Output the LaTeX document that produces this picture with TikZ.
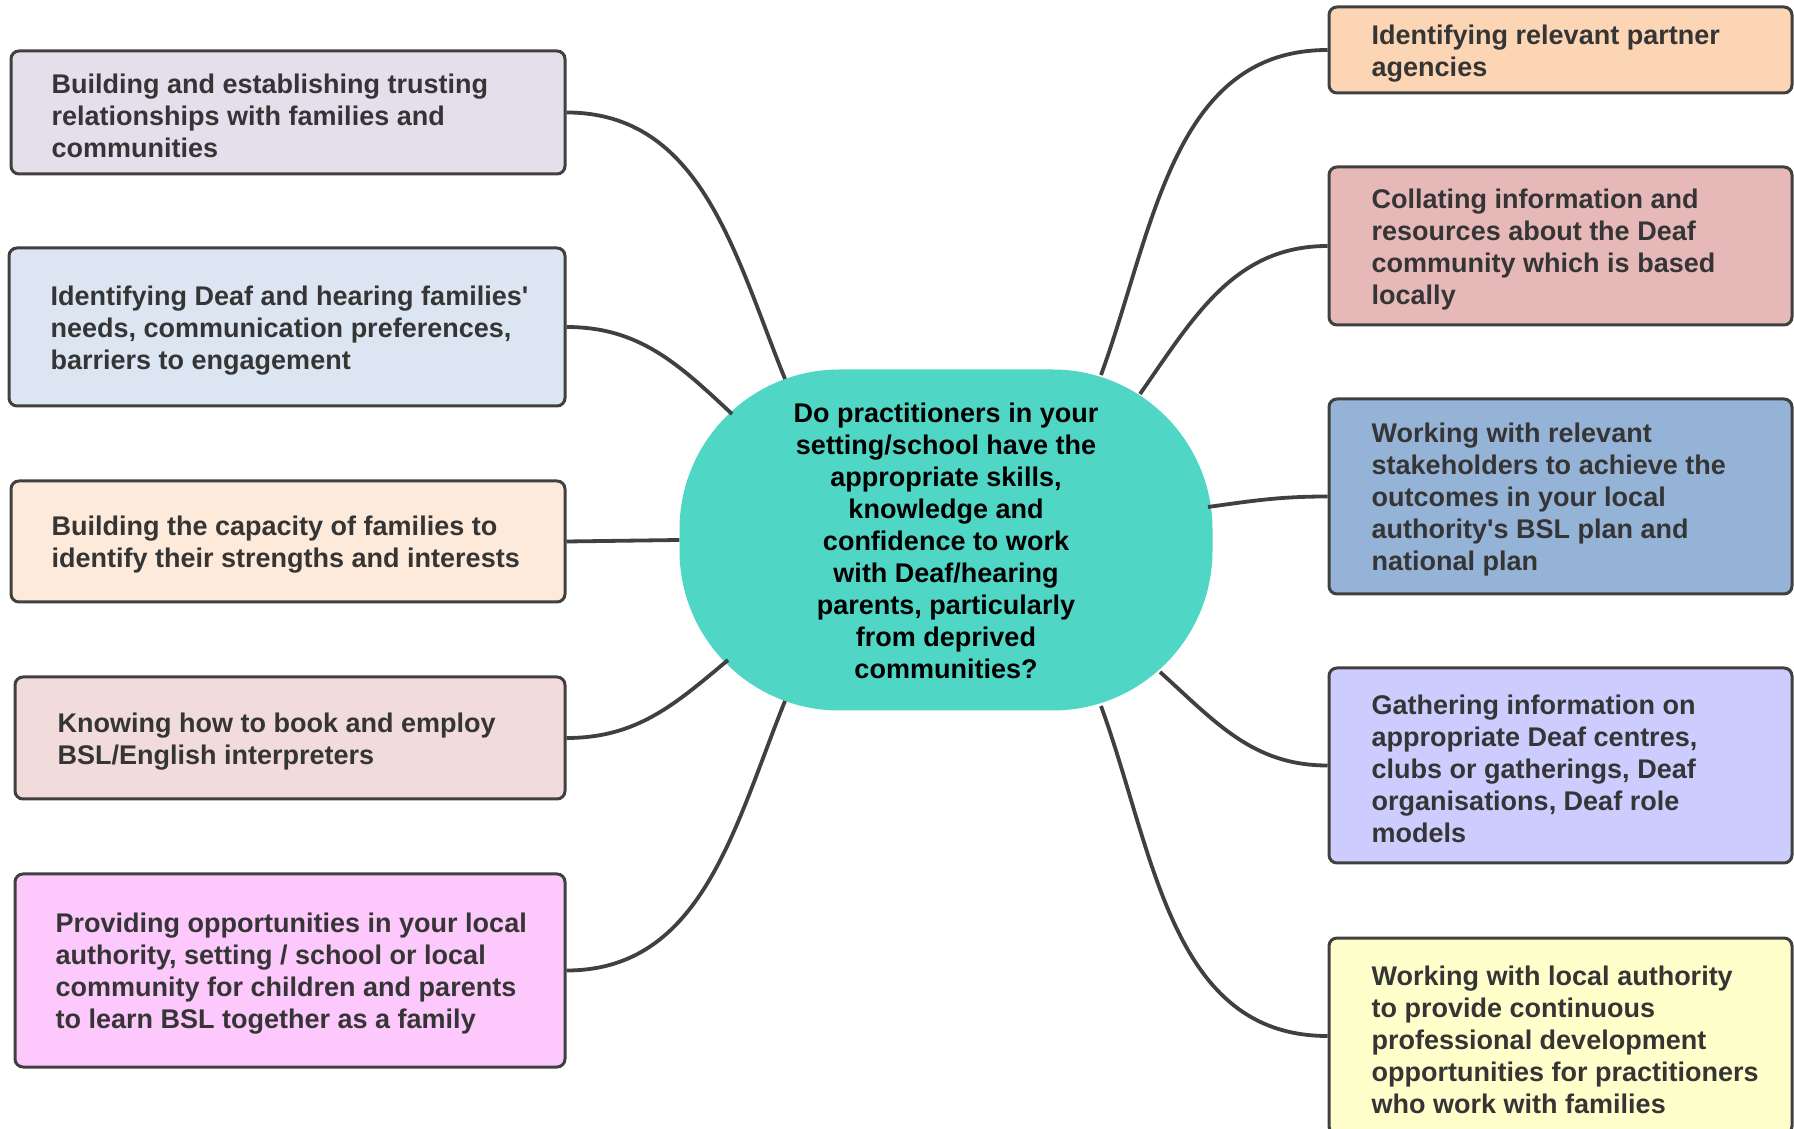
\documentclass[tikz,border=0pt]{standalone}
\usepackage{fontspec}
\setmainfont{Liberation Sans}
\usetikzlibrary{calc}

\definecolor{edge}{HTML}{404040}
\definecolor{txt}{HTML}{353535}
\definecolor{hub}{HTML}{4FD6C5}
\definecolor{cLa}{HTML}{E5DFEC}
\definecolor{cLb}{HTML}{DCE6F2}
\definecolor{cLc}{HTML}{FDEADA}
\definecolor{cLd}{HTML}{F2DCDB}
\definecolor{cLe}{HTML}{FDC9FD}
\definecolor{cRa}{HTML}{FCD5B5}
\definecolor{cRb}{HTML}{E6B9B8}
\definecolor{cRc}{HTML}{95B3D7}
\definecolor{cRd}{HTML}{CCCCFF}
\definecolor{cRe}{HTML}{FFFFCC}

\begin{document}
\begin{tikzpicture}[x=1pt,y=1pt,
  box/.style={draw=edge, line width=3pt, rounded corners=8pt, inner sep=0pt},
  lbl/.style={anchor=west, align=left, inner sep=0pt, text=txt,
    font=\fontsize{27}{32}\selectfont\bfseries},
  hubnode/.style={fill=hub, rounded corners=160pt, minimum width=533pt,
    minimum height=341pt, align=center, text=black, inner sep=0pt,
    font=\fontsize{27}{32}\selectfont\bfseries},
  link/.style={draw=edge, line width=3.8pt}]

\fill[white] (0,0) rectangle (1794,1128);
\useasboundingbox (0,0) rectangle (1794,1128);

% central question
\node[hubnode] (C) at (946,588) {\raisebox{-4.5pt}[\height][\depth]{\begin{tabular}{@{}c@{}}Do practitioners in your\\setting/school have the\\appropriate skills,\\knowledge and\\confidence to work\\with Deaf/hearing\\parents, particularly\\from deprived\\communities?\end{tabular}}};

% left column: frames
\node[box, fill=cLa, minimum width=554pt, minimum height=123pt] (L1) at (288,1015.5) {};
\node[box, fill=cLb, minimum width=556pt, minimum height=158pt] (L2) at (287,801) {};
\node[box, fill=cLc, minimum width=554pt, minimum height=121pt] (L3) at (288,586.5) {};
\node[box, fill=cLd, minimum width=550pt, minimum height=122pt] (L4) at (290,390) {};
\node[box, fill=cLe, minimum width=550pt, minimum height=193pt] (L5) at (290,157.5) {};

% left column: texts
\node[lbl] (L1t) at ($(L1.west)+(42,-3.5)$)
  {Building and establishing trusting\\relationships with families and\\communities};
\node[lbl] (L2t) at ($(L2.west)+(43,-3.5)$)
  {Identifying Deaf and hearing families\textquotesingle\\needs, communication preferences,\\barriers to engagement};
\node[lbl] (L3t) at ($(L3.west)+(42,-3.5)$)
  {Building the capacity of families to\\identify their strengths and interests};
\node[lbl] (L4t) at ($(L4.west)+(44,-3.5)$)
  {Knowing how to book and employ\\BSL/English interpreters};
\node[lbl] (L5t) at ($(L5.west)+(42,-3.5)$)
  {Providing opportunities in your local\\authority, setting / school or local\\community for children and parents\\to learn BSL together as a family};

% right column: frames
\node[box, fill=cRa, minimum width=463pt, minimum height=86pt]  (R1) at (1560.5,1078) {};
\node[box, fill=cRb, minimum width=463pt, minimum height=158pt] (R2) at (1560.5,882) {};
\node[box, fill=cRc, minimum width=463pt, minimum height=195pt] (R3) at (1560.5,631.5) {};
\node[box, fill=cRd, minimum width=463pt, minimum height=195pt] (R4) at (1560.5,362.5) {};
\node[box, fill=cRe, minimum width=463pt, minimum height=196pt] (R5) at (1560.5,92) {};

% right column: texts
\node[lbl] (R1t) at ($(R1.west)+(44,-3.5)$)
  {Identifying relevant partner\\agencies};
\node[lbl] (R2t) at ($(R2.west)+(44,-3.5)$)
  {Collating information and\\resources about the Deaf\\community which is based\\locally};
\node[lbl] (R3t) at ($(R3.west)+(44,-3.5)$)
  {Working with relevant\\stakeholders to achieve the\\outcomes in your local\\authority\textquotesingle s BSL plan and\\national plan};
\node[lbl] (R4t) at ($(R4.west)+(44,-3.5)$)
  {Gathering information on\\appropriate Deaf centres,\\clubs or gatherings, Deaf\\organisations, Deaf role\\models};
\node[lbl] (R5t) at ($(R5.west)+(44,-3.5)$)
  {Working with local authority\\to provide continuous\\professional development\\opportunities for practitioners\\who work with families};

% attachment points on the rim of the central shape
\coordinate (hL1) at ($(C.center)+(-161,161)$);
\coordinate (hL2) at ($(C.center)+(-214,126)$);
\coordinate (hL4) at ($(C.center)+(-218,-120)$);
\coordinate (hL5) at ($(C.center)+(-161,-161)$);
\coordinate (hR1) at ($(C.center)+(155,165)$);
\coordinate (hR2) at ($(C.center)+(194,146)$);
\coordinate (hR3) at ($(C.center)+(262,33)$);
\coordinate (hR4) at ($(C.center)+(214,-132)$);
\coordinate (hR5) at ($(C.center)+(155,-166)$);

% connectors
\draw[link] (L1.east) to[out=0, in=112] (hL1);
\draw[link] (L2.east) to[out=0, in=137] (hL2);
\draw[link] (L3.east) -- (C.west);
\draw[link] (L4.east) to[out=0, in=-140] (hL4);
\draw[link] (L5.east) to[out=0, in=-112] (hL5);
\draw[link] (R1.west) to[out=180, in=70] (hR1);
\draw[link] (R2.west) to[out=180, in=55] (hR2);
\draw[link] (R3.west) to[out=180, in=8] (hR3);
\draw[link] (R4.west) to[out=180, in=-42] (hR4);
\draw[link] (R5.west) to[out=180, in=-70] (hR5);
\end{tikzpicture}
\end{document}
